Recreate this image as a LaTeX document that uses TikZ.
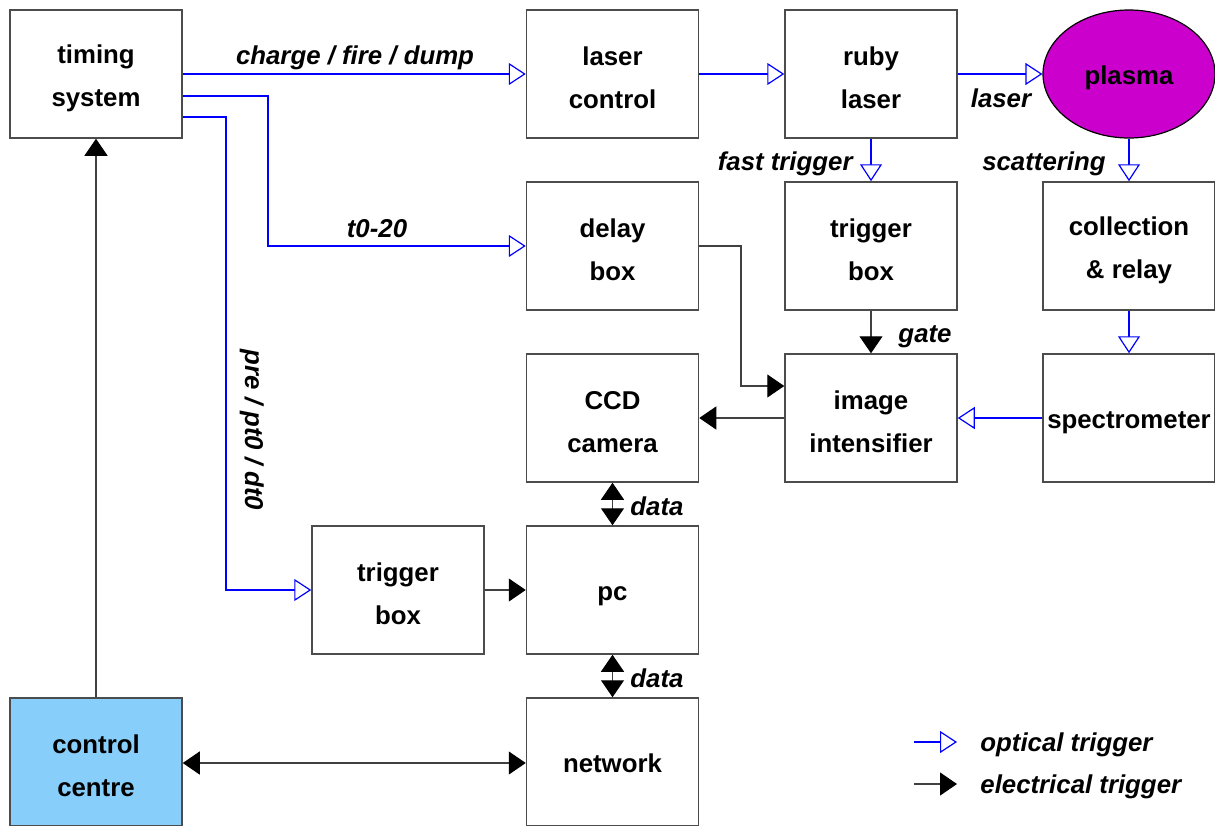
\documentclass[tikz,border=0pt]{standalone}
\usepackage{fontspec}
\setmainfont{Liberation Sans}
\usetikzlibrary{arrows.meta,shapes.geometric}
\definecolor{skyfill}{RGB}{135,206,250}
\definecolor{plasmafill}{RGB}{204,0,204}
% fixed line height and depth, so every one-line block label sits at the same level
\newcommand\blkstrut{\rule[-3.5pt]{0pt}{17.5pt}}
\tikzset{
  txtfont/.style={font=\fontsize{12.9}{21.5}\selectfont\bfseries},
  txt/.style={txtfont, execute at begin node=\blkstrut, execute at end node=\blkstrut},
  lbl/.style={font=\fontsize{12.9}{15}\selectfont\bfseries\itshape, inner sep=0pt},
  boxbase/.style={draw=black!70, line width=0.75pt, minimum width=86pt, minimum height=64pt,
              align=center, inner sep=0pt},
  blk/.style={boxbase, txt},
  % two-line labels, set over an empty box
  twoline/.style={txtfont, align=center, inner sep=0pt, yshift=-2pt},
  opt/.style={draw=blue, line width=0.6pt,
              -{Triangle[open, length=8.5pt, width=11pt, fill=white]}},
  elec/.style={draw=black!75, line width=0.6pt,
               -{Triangle[length=8.5pt, width=11.5pt, color=black]}},
  both/.style={draw=black!75, line width=0.6pt,
               {Triangle[length=8.5pt, width=11.5pt, color=black]}-{Triangle[length=8.5pt, width=11.5pt, color=black]}},
}
\begin{document}
\begin{tikzpicture}[x=0.5pt, y=-0.5pt]
\useasboundingbox (0,0) rectangle (1215,825);

% blocks
\node[boxbase] (timing) at (96,74)    {};
\node[boxbase] (lctrl)  at (612.5,74) {};
\node[boxbase] (ruby)   at (871,74)   {};
\node[ellipse, draw=black, fill=plasmafill, line width=0.6pt, minimum width=86pt,
      minimum height=64pt, inner sep=0pt, txt] (plasma) at (1129,74) {plasma};
\node[boxbase] (delay)  at (612.5,246) {};
\node[boxbase] (trigA)  at (871,246)   {};
\node[boxbase] (coll)   at (1129,246)  {};
\node[boxbase] (ccd)    at (612.5,418) {};
\node[boxbase] (intens) at (871,418)   {};
\node[blk]     (spec)   at (1129,418)  {spectrometer};
\node[boxbase] (trigB)  at (398,590)   {};
\node[blk]     (pc)     at (612.5,590) {pc};
\node[boxbase, fill=skyfill] (ctrl) at (96,762) {};
\node[blk]     (net)    at (612.5,762) {network};

% block labels
\node[twoline] (timingT) at (timing) {timing\\system};
\node[twoline] (lctrlT)  at (lctrl)  {laser\\control};
\node[twoline] (rubyT)   at (ruby)   {ruby\\laser};
\node[twoline] (delayT)  at (delay)  {delay\\box};
\node[twoline] (trigAT)  at (trigA)  {trigger\\box};
\node[twoline] (collT)   at (coll)   {collection\\\& relay};
\node[twoline] (ccdT)    at (ccd)    {CCD\\camera};
\node[twoline] (intensT) at (intens) {image\\intensifier};
\node[twoline] (trigBT)  at (trigB)  {trigger\\box};
\node[twoline] (ctrlT)   at (ctrl)   {control\\centre};

% optical triggers
\draw[opt] (timing.east) -- (lctrl.west);
\node[lbl, anchor=base] (lcfd) at (355,64) {charge / fire / dump};
\draw[opt] (timing.east |- 0,96) -| (268,246) -- (delay.west);
\node[lbl, anchor=base] (lt0) at (377,237) {t0-20};
\draw[opt] (timing.east |- 0,117) -| (226,590) -- (trigB.west);
\node[lbl, anchor=base, rotate=-90] (lpre) at (245,430) {pre / pt0 / dt0};
\draw[opt] (lctrl.east) -- (ruby.west);
\draw[opt] (ruby.east) -- (plasma.west);
\node[lbl, anchor=base] (llaser) at (1001,107) {laser};
\draw[opt] (ruby.south) -- (trigA.north);
\node[lbl, anchor=base east] (lfast) at (853,170) {fast trigger};
\draw[opt] (plasma.south) -- (coll.north);
\node[lbl, anchor=base east] (lscat) at (1106,170) {scattering};
\draw[opt] (coll.south) -- (spec.north);
\draw[opt] (spec.west) -- (intens.east);

% electrical triggers
\draw[elec] (trigA.south) -- (intens.north);
\node[lbl, anchor=base] (lgate) at (925,342) {gate};
\draw[elec] (delay.east) -| (741,386) -- (intens.west |- 0,386);
\draw[elec] (intens.west) -- (ccd.east);
\draw[both] (ccd.south) -- (pc.north);
\node[lbl, anchor=base west] (ldata1) at (630,515) {data};
\draw[elec] (trigB.east) -- (pc.west);
\draw[both] (pc.south) -- (net.north);
\node[lbl, anchor=base west] (ldata2) at (630,687) {data};
\draw[both] (ctrl.east |- 0,763) -- (net.west |- 0,763);
\draw[elec] (ctrl.north) -- (timing.south);

% legend
\coordinate (o1) at (914,742);
\coordinate (o2) at (957,742);
\coordinate (e1) at (914,784);
\coordinate (e2) at (957,784);
\draw[opt] (o1) -- (o2);
\draw[elec] (e1) -- (e2);
\node[lbl, anchor=base west] (lopt) at (980,751) {optical trigger};
\node[lbl, anchor=base west] (lelec) at (980,793) {electrical trigger};
\end{tikzpicture}
\end{document}
